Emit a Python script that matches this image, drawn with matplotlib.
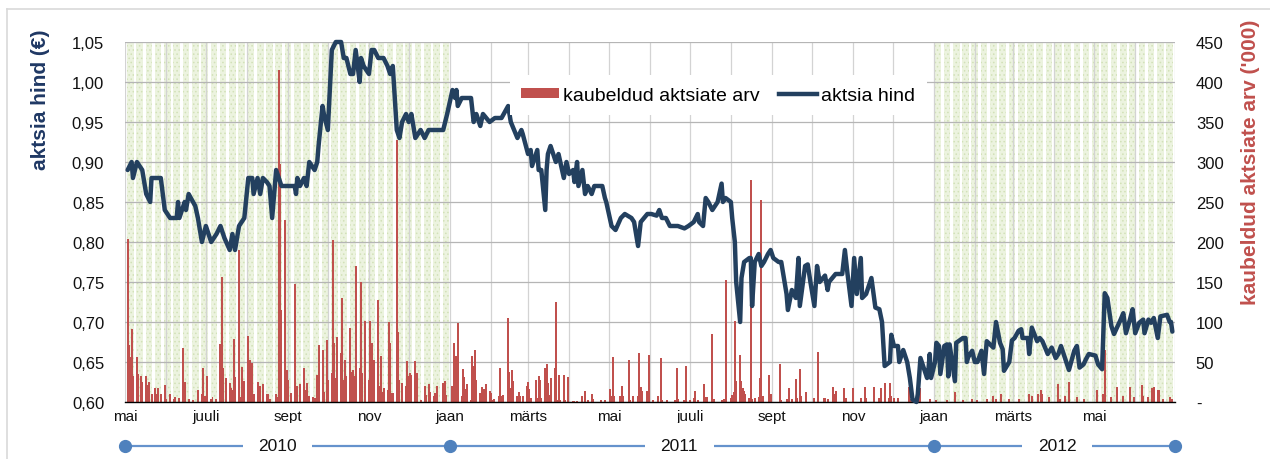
import matplotlib
matplotlib.use("Agg")
import matplotlib.pyplot as plt
import matplotlib.dates as mdates
from matplotlib.lines import Line2D
from matplotlib.patches import Patch
from matplotlib.ticker import FuncFormatter, FixedLocator, MultipleLocator
import pandas as pd

plt.rcParams['font.family'] = ['Liberation Sans', 'DejaVu Sans']
plt.rcParams['hatch.linewidth'] = 0.6

# aktsia hind (EUR)
price_dates = [
    '2010-05-03', '2010-05-06', '2010-05-07', '2010-05-10', '2010-05-12', '2010-05-14', '2010-05-17', '2010-05-20',
    '2010-05-21', '2010-05-28', '2010-05-31', '2010-06-04', '2010-06-09', '2010-06-10', '2010-06-11', '2010-06-15',
    '2010-06-16', '2010-06-18', '2010-06-23', '2010-06-25', '2010-06-28', '2010-07-01', '2010-07-05', '2010-07-09',
    '2010-07-12', '2010-07-15', '2010-07-19', '2010-07-21', '2010-07-23', '2010-07-26', '2010-07-30', '2010-08-02',
    '2010-08-05', '2010-08-06', '2010-08-09', '2010-08-11', '2010-08-13', '2010-08-16', '2010-08-18', '2010-08-20',
    '2010-08-23', '2010-08-25', '2010-08-27', '2010-09-06', '2010-09-07', '2010-09-08', '2010-09-10', '2010-09-13',
    '2010-09-15', '2010-09-17', '2010-09-21', '2010-09-23', '2010-09-24', '2010-09-27', '2010-09-28', '2010-10-01',
    '2010-10-04', '2010-10-07', '2010-10-11', '2010-10-13', '2010-10-15', '2010-10-18', '2010-10-20', '2010-10-22',
    '2010-10-25', '2010-10-26', '2010-10-28', '2010-11-01', '2010-11-03', '2010-11-05', '2010-11-08', '2010-11-12',
    '2010-11-15', '2010-11-17', '2010-11-19', '2010-11-22', '2010-11-24', '2010-11-26', '2010-11-29', '2010-12-01',
    '2010-12-03', '2010-12-06', '2010-12-10', '2010-12-13', '2010-12-16', '2010-12-27', '2010-12-30',
    '2011-01-03', '2011-01-05', '2011-01-06', '2011-01-07', '2011-01-10', '2011-01-17', '2011-01-19', '2011-01-21',
    '2011-01-24', '2011-01-26', '2011-01-31', '2011-02-04', '2011-02-09', '2011-02-14', '2011-02-16', '2011-02-21',
    '2011-02-24', '2011-02-25', '2011-03-01', '2011-03-03', '2011-03-04', '2011-03-08', '2011-03-09', '2011-03-11',
    '2011-03-14', '2011-03-15', '2011-03-16', '2011-03-18', '2011-03-22', '2011-03-24', '2011-03-28', '2011-03-30',
    '2011-04-01', '2011-04-04', '2011-04-05', '2011-04-07', '2011-04-08', '2011-04-11', '2011-04-13', '2011-04-15',
    '2011-04-18', '2011-04-20', '2011-04-26', '2011-04-28', '2011-04-29', '2011-05-03', '2011-05-06', '2011-05-10',
    '2011-05-13', '2011-05-18', '2011-05-20', '2011-05-23', '2011-05-25', '2011-05-30', '2011-06-02', '2011-06-06',
    '2011-06-08', '2011-06-10', '2011-06-13', '2011-06-16', '2011-06-22', '2011-06-27', '2011-06-30', '2011-07-04',
    '2011-07-07', '2011-07-08', '2011-07-11', '2011-07-13', '2011-07-15', '2011-07-18', '2011-07-22', '2011-07-25',
    '2011-07-26', '2011-07-28', '2011-08-01', '2011-08-02', '2011-08-04', '2011-08-05', '2011-08-08', '2011-08-09',
    '2011-08-11', '2011-08-15', '2011-08-16', '2011-08-17', '2011-08-19', '2011-08-22', '2011-08-24', '2011-08-26',
    '2011-08-29', '2011-08-31', '2011-09-02', '2011-09-06', '2011-09-08', '2011-09-09', '2011-09-12', '2011-09-13',
    '2011-09-16', '2011-09-19', '2011-09-21', '2011-09-22', '2011-09-26', '2011-09-28', '2011-09-30', '2011-10-03',
    '2011-10-05', '2011-10-07', '2011-10-11', '2011-10-13', '2011-10-14', '2011-10-19', '2011-10-24', '2011-10-26',
    '2011-10-28', '2011-10-31', '2011-11-02', '2011-11-04', '2011-11-07', '2011-11-08', '2011-11-11', '2011-11-15',
    '2011-11-17', '2011-11-18', '2011-11-21', '2011-11-23', '2011-11-25', '2011-11-29', '2011-11-30', '2011-12-02',
    '2011-12-05', '2011-12-06', '2011-12-09', '2011-12-12', '2011-12-14', '2011-12-16', '2011-12-19', '2011-12-20',
    '2011-12-22', '2011-12-27', '2011-12-28', '2011-12-29', '2011-12-30',
    '2012-01-02', '2012-01-03', '2012-01-05', '2012-01-06', '2012-01-09', '2012-01-11', '2012-01-12', '2012-01-13',
    '2012-01-17', '2012-01-18', '2012-01-23', '2012-01-25', '2012-01-26', '2012-01-27', '2012-01-30', '2012-02-01',
    '2012-02-03', '2012-02-06', '2012-02-08', '2012-02-10', '2012-02-15', '2012-02-17', '2012-02-20', '2012-02-22',
    '2012-02-23', '2012-02-27', '2012-02-29', '2012-03-02', '2012-03-05', '2012-03-07', '2012-03-08', '2012-03-12',
    '2012-03-13', '2012-03-15', '2012-03-19', '2012-03-21', '2012-03-23', '2012-03-27', '2012-03-30', '2012-04-02',
    '2012-04-04', '2012-04-06', '2012-04-09', '2012-04-12', '2012-04-16', '2012-04-18', '2012-04-20', '2012-04-23',
    '2012-04-25', '2012-04-27', '2012-05-02', '2012-05-04', '2012-05-07', '2012-05-09', '2012-05-11', '2012-05-14',
    '2012-05-16', '2012-05-21', '2012-05-23', '2012-05-25', '2012-05-28', '2012-05-30', '2012-06-01', '2012-06-04',
    '2012-06-07', '2012-06-08', '2012-06-11', '2012-06-13', '2012-06-15', '2012-06-18', '2012-06-20', '2012-06-25',
    '2012-06-27', '2012-06-28', '2012-06-29',
]
price_values = [
    0.89, 0.90, 0.88, 0.90, 0.895, 0.89, 0.86, 0.85,
    0.88, 0.88, 0.84, 0.83, 0.83, 0.85, 0.83, 0.85,
    0.84, 0.86, 0.845, 0.83, 0.80, 0.82, 0.80, 0.81,
    0.82, 0.805, 0.79, 0.81, 0.79, 0.82, 0.83, 0.88,
    0.88, 0.86, 0.88, 0.86, 0.88, 0.875, 0.87, 0.83,
    0.89, 0.88, 0.87, 0.87, 0.86, 0.88, 0.87, 0.88,
    0.87, 0.90, 0.89, 0.90, 0.92, 0.97, 0.96, 0.94,
    1.04, 1.05, 1.05, 1.03, 1.03, 1.01, 1.01, 1.04,
    1.00, 1.03, 1.02, 1.01, 1.04, 1.04, 1.03, 1.03,
    1.02, 1.01, 1.02, 0.94, 0.93, 0.95, 0.96, 0.95,
    0.96, 0.93, 0.94, 0.93, 0.94, 0.94, 0.96,
    0.99, 0.98, 0.99, 0.97, 0.98, 0.98, 0.95, 0.96,
    0.945, 0.96, 0.95, 0.955, 0.955, 0.97, 0.95, 0.93,
    0.94, 0.935, 0.91, 0.915, 0.895, 0.915, 0.89, 0.89,
    0.84, 0.89, 0.91, 0.92, 0.90, 0.91, 0.88, 0.90,
    0.885, 0.89, 0.875, 0.90, 0.87, 0.89, 0.86, 0.87,
    0.86, 0.87, 0.87, 0.855, 0.85, 0.82, 0.815, 0.83,
    0.835, 0.83, 0.825, 0.795, 0.825, 0.835, 0.835, 0.833,
    0.84, 0.83, 0.83, 0.82, 0.82, 0.817, 0.82, 0.825,
    0.835, 0.825, 0.82, 0.855, 0.85, 0.84, 0.85, 0.873,
    0.85, 0.855, 0.85, 0.83, 0.80, 0.75, 0.70, 0.755,
    0.775, 0.78, 0.78, 0.72, 0.775, 0.785, 0.77, 0.775,
    0.785, 0.79, 0.78, 0.775, 0.775, 0.765, 0.735, 0.715,
    0.74, 0.73, 0.78, 0.72, 0.77, 0.772, 0.75, 0.72,
    0.77, 0.75, 0.758, 0.74, 0.75, 0.76, 0.76, 0.79,
    0.76, 0.72, 0.78, 0.735, 0.78, 0.73, 0.735, 0.755,
    0.73, 0.718, 0.716, 0.70, 0.645, 0.65, 0.684, 0.67,
    0.67, 0.65, 0.665, 0.65, 0.63, 0.603, 0.60, 0.61,
    0.655, 0.63, 0.64, 0.66, 0.63,
    0.65, 0.674, 0.67, 0.635, 0.67, 0.672, 0.632, 0.672,
    0.626, 0.674, 0.68, 0.68, 0.65, 0.656, 0.664, 0.65,
    0.65, 0.664, 0.635, 0.676, 0.668, 0.70, 0.674, 0.666,
    0.639, 0.65, 0.677, 0.68, 0.689, 0.691, 0.68, 0.68,
    0.66, 0.693, 0.676, 0.68, 0.676, 0.66, 0.668, 0.655,
    0.66, 0.67, 0.655, 0.64, 0.664, 0.67, 0.643, 0.647,
    0.654, 0.66, 0.658, 0.647, 0.641, 0.736, 0.73, 0.695,
    0.685, 0.703, 0.711, 0.686, 0.703, 0.716, 0.686, 0.699,
    0.703, 0.686, 0.703, 0.699, 0.705, 0.68, 0.707, 0.709,
    0.70, 0.70, 0.688,
]

# kaubeldud aktsiate arv ('000)
vol_dates = [
    '2010-05-03', '2010-05-04', '2010-05-05', '2010-05-06', '2010-05-07', '2010-05-10', '2010-05-11', '2010-05-13',
    '2010-05-14', '2010-05-17', '2010-05-18', '2010-05-19', '2010-05-21', '2010-05-24', '2010-05-25', '2010-05-26',
    '2010-05-28', '2010-05-31', '2010-06-01', '2010-06-04', '2010-06-07', '2010-06-08', '2010-06-11', '2010-06-14',
    '2010-06-15', '2010-06-18', '2010-06-21', '2010-06-25', '2010-06-28', '2010-06-29', '2010-06-30', '2010-07-02',
    '2010-07-05', '2010-07-06', '2010-07-09', '2010-07-12', '2010-07-13', '2010-07-14', '2010-07-16', '2010-07-19',
    '2010-07-20', '2010-07-21', '2010-07-22', '2010-07-23', '2010-07-26', '2010-07-27', '2010-07-28', '2010-07-29',
    '2010-07-30', '2010-08-02', '2010-08-03', '2010-08-04', '2010-08-05', '2010-08-06', '2010-08-09', '2010-08-10',
    '2010-08-11', '2010-08-13', '2010-08-16', '2010-08-17', '2010-08-18', '2010-08-23', '2010-08-24', '2010-08-25',
    '2010-08-26', '2010-08-27', '2010-08-30', '2010-08-31', '2010-09-01', '2010-09-03', '2010-09-06', '2010-09-07',
    '2010-09-08', '2010-09-10', '2010-09-13', '2010-09-14', '2010-09-15', '2010-09-17', '2010-09-20', '2010-09-21',
    '2010-09-23', '2010-09-24', '2010-09-27', '2010-09-28', '2010-09-30', '2010-10-01', '2010-10-04', '2010-10-05',
    '2010-10-06', '2010-10-07', '2010-10-08', '2010-10-11', '2010-10-12', '2010-10-13', '2010-10-14', '2010-10-15',
    '2010-10-18', '2010-10-19', '2010-10-20', '2010-10-21', '2010-10-22', '2010-10-25', '2010-10-26', '2010-10-27',
    '2010-10-29', '2010-11-01', '2010-11-02', '2010-11-03', '2010-11-04', '2010-11-05', '2010-11-08', '2010-11-09',
    '2010-11-10', '2010-11-11', '2010-11-12', '2010-11-15', '2010-11-16', '2010-11-17', '2010-11-18', '2010-11-19',
    '2010-11-22', '2010-11-23', '2010-11-24', '2010-11-26', '2010-11-29', '2010-11-30', '2010-12-01', '2010-12-02',
    '2010-12-03', '2010-12-06', '2010-12-07', '2010-12-10', '2010-12-13', '2010-12-14', '2010-12-16', '2010-12-17',
    '2010-12-20', '2010-12-21', '2010-12-22', '2010-12-27', '2010-12-28', '2010-12-29',
    '2011-01-03', '2011-01-04', '2011-01-05', '2011-01-06', '2011-01-07', '2011-01-10', '2011-01-11', '2011-01-12',
    '2011-01-13', '2011-01-14', '2011-01-17', '2011-01-18', '2011-01-19', '2011-01-20', '2011-01-21', '2011-01-24',
    '2011-01-25', '2011-01-26', '2011-01-27', '2011-01-28', '2011-01-31', '2011-02-01', '2011-02-02', '2011-02-03',
    '2011-02-07', '2011-02-08', '2011-02-09', '2011-02-10', '2011-02-14', '2011-02-15', '2011-02-16', '2011-02-17',
    '2011-02-18', '2011-02-21', '2011-02-22', '2011-02-23', '2011-02-25', '2011-02-28', '2011-03-01', '2011-03-02',
    '2011-03-03', '2011-03-07', '2011-03-08', '2011-03-09', '2011-03-10', '2011-03-11', '2011-03-14', '2011-03-15',
    '2011-03-16', '2011-03-17', '2011-03-18', '2011-03-21', '2011-03-22', '2011-03-23', '2011-03-24', '2011-03-25',
    '2011-03-28', '2011-03-29', '2011-03-31', '2011-04-04', '2011-04-05', '2011-04-07', '2011-04-11', '2011-04-13',
    '2011-04-15', '2011-04-18', '2011-04-19', '2011-04-25', '2011-04-28', '2011-05-02', '2011-05-03', '2011-05-04',
    '2011-05-05', '2011-05-09', '2011-05-11', '2011-05-12', '2011-05-16', '2011-05-17', '2011-05-19', '2011-05-23',
    '2011-05-24', '2011-05-25', '2011-05-26', '2011-05-30', '2011-05-31', '2011-06-03', '2011-06-07', '2011-06-09',
    '2011-06-10', '2011-06-14', '2011-06-20', '2011-06-21', '2011-06-22', '2011-06-27', '2011-06-28', '2011-07-01',
    '2011-07-04', '2011-07-05', '2011-07-07', '2011-07-12', '2011-07-13', '2011-07-14', '2011-07-18', '2011-07-19',
    '2011-07-25', '2011-07-26', '2011-07-27', '2011-07-28', '2011-08-01', '2011-08-02', '2011-08-03', '2011-08-04',
    '2011-08-05', '2011-08-08', '2011-08-09', '2011-08-10', '2011-08-11', '2011-08-12', '2011-08-15', '2011-08-16',
    '2011-08-17', '2011-08-19', '2011-08-22', '2011-08-23', '2011-08-24', '2011-08-25', '2011-08-30', '2011-08-31',
    '2011-09-07', '2011-09-08', '2011-09-12', '2011-09-14', '2011-09-16', '2011-09-19', '2011-09-20', '2011-09-22',
    '2011-09-23', '2011-09-27', '2011-10-03', '2011-10-06', '2011-10-10', '2011-10-11', '2011-10-13', '2011-10-17',
    '2011-10-18', '2011-10-19', '2011-10-25', '2011-10-27', '2011-11-01', '2011-11-07', '2011-11-10', '2011-11-11',
    '2011-11-17', '2011-11-21', '2011-11-22', '2011-11-25', '2011-11-28', '2011-11-29', '2011-11-30', '2011-12-02',
    '2011-12-05', '2011-12-13', '2011-12-15', '2011-12-16', '2011-12-20', '2011-12-22', '2011-12-29',
    '2012-01-03', '2012-01-11', '2012-01-17', '2012-01-23', '2012-01-30', '2012-02-03', '2012-02-10', '2012-02-15',
    '2012-02-17', '2012-02-21', '2012-02-27', '2012-03-05', '2012-03-13', '2012-03-15', '2012-03-20', '2012-03-22',
    '2012-03-23', '2012-03-28', '2012-04-04', '2012-04-05', '2012-04-09', '2012-04-12', '2012-04-18', '2012-04-23',
    '2012-05-03', '2012-05-08', '2012-05-09', '2012-05-14', '2012-05-18', '2012-05-23', '2012-05-28', '2012-05-31',
    '2012-06-06', '2012-06-07', '2012-06-11', '2012-06-14', '2012-06-15', '2012-06-18', '2012-06-19', '2012-06-22',
    '2012-06-27', '2012-06-29',
]
vol_values = [
    204, 71, 56, 91, 33, 56, 35, 32,
    25, 33, 21, 25, 10, 17, 10, 17,
    10, 21, 4, 10, 4, 6, 5, 68,
    25, 4, 3, 15, 10, 42, 8, 32,
    4, 6, 4, 72, 156, 42, 30, 24,
    17, 15, 79, 31, 190, 6, 44, 6,
    26, 83, 52, 49, 49, 10, 25, 20,
    20, 22, 10, 10, 4, 10, 6, 415,
    297, 115, 227, 40, 28, 11, 147, 5,
    20, 22, 42, 15, 24, 8, 6, 5,
    34, 71, 65, 13, 78, 28, 36, 202,
    74, 30, 81, 61, 130, 28, 53, 32,
    92, 38, 40, 32, 170, 42, 150, 36,
    101, 28, 101, 74, 32, 53, 127, 20,
    57, 13, 17, 15, 100, 74, 11, 11,
    328, 87, 28, 24, 20, 51, 32, 36,
    34, 51, 36, 3, 20, 9, 22, 13,
    7, 11, 20, 24, 26, 9,
    20, 74, 31, 58, 99, 8, 41, 31,
    16, 22, 3, 57, 45, 65, 28, 11,
    19, 11, 16, 23, 14, 11, 3, 4,
    7, 42, 7, 9, 105, 37, 18, 40,
    26, 8, 13, 7, 7, 20, 25, 16,
    5, 28, 5, 33, 28, 5, 42, 48,
    24, 9, 30, 42, 125, 3, 34, 3,
    34, 3, 31, 1, 1, 1, 8, 14,
    3, 10, 4, 2, 2, 16, 8, 56,
    8, 7, 20, 8, 53, 3, 7, 7,
    61, 19, 14, 14, 59, 3, 7, 55,
    3, 3, 3, 42, 4, 3, 45, 3,
    5, 14, 3, 23, 6, 6, 85, 4,
    3, 3, 4, 152, 5, 9, 13, 101,
    26, 59, 26, 18, 14, 10, 5, 278,
    4, 5, 6, 30, 252, 8, 34, 10,
    48, 3, 4, 17, 4, 29, 5, 41,
    8, 12, 5, 62, 5, 5, 4, 19,
    10, 14, 17, 5, 17, 5, 19, 5,
    19, 5, 17, 24, 5, 24, 8, 5,
    5, 19, 4, 6, 4, 17, 4,
    2, 2, 12, 2, 4, 2, 4, 7,
    4, 10, 4, 4, 10, 7, 10, 15,
    10, 6, 23, 4, 7, 25, 6, 4,
    15, 10, 65, 6, 19, 8, 19, 6,
    21, 8, 6, 17, 19, 15, 15, 4,
    6, 4,
]

# x axis month labels (every second month)
month_ticks = ['2010-05-01', '2010-07-01', '2010-09-01', '2010-11-01', '2011-01-01', '2011-03-01', '2011-05-01',
               '2011-07-01', '2011-09-01', '2011-11-01', '2012-01-01', '2012-03-01', '2012-05-01']
month_labels = ['mai', 'juuli', 'sept', 'nov', 'jaan', 'märts', 'mai', 'juuli', 'sept', 'nov', 'jaan', 'märts', 'mai']

# shaded periods and year timeline
shade_periods = [('2010-05-01', '2010-12-31'), ('2012-01-01', '2012-06-30')]
years = ['2010', '2011', '2012']
year_bounds = ['2010-05-01', '2011-01-01', '2012-01-01', '2012-07-01']

C_LINE = '#23405f'
C_BAR = '#c0504d'
C_TL = '#4f81bd'

W, H = 1270, 460
fig = plt.figure(figsize=(W / 100, H / 100), dpi=100)
fig.patch.set_facecolor('white')
ax_l, ax_r, ax_t, ax_b = 125, 1175, 43, 403
rect = [ax_l / W, 1 - ax_b / H, (ax_r - ax_l) / W, (ax_b - ax_t) / H]

ax_v = fig.add_axes(rect)          # volume, right scale (drawn below)
ax_p = ax_v.twinx()                # price, left scale (drawn on top)

x0, x1 = pd.Timestamp('2010-05-01'), pd.Timestamp('2012-07-01')

# shaded periods: one pattern column per trading day
for start, end in shade_periods:
    days = pd.bdate_range(start, end)
    ax_v.bar(days, [450] * len(days), width=1.0, color='#ecf3df', hatch='....',
             edgecolor='#d2e1b8', linewidth=0, zorder=0.2)

# volumes
ax_v.bar(pd.to_datetime(vol_dates), vol_values, width=1.5, color=C_BAR, linewidth=0, zorder=2)
ax_v.set_ylim(0, 450)
ax_v.set_xlim(x0, x1)
ax_v.yaxis.tick_right()
ax_v.yaxis.set_major_locator(MultipleLocator(50))
ax_v.yaxis.set_major_formatter(FuncFormatter(lambda v, p: '-' if v == 0 else f'{int(v)}'))

ax_v.xaxis.set_major_locator(FixedLocator(mdates.date2num(pd.to_datetime(month_ticks))))
ax_v.xaxis.set_major_formatter(FuncFormatter(lambda v, p: month_labels[p] if p is not None and p < len(month_labels) else ''))
ax_v.xaxis.set_minor_locator(mdates.MonthLocator())
ax_v.set_axisbelow(True)
ax_v.grid(which='both', axis='x', color='#d3d3d3', linewidth=0.9)
ax_v.grid(which='major', axis='y', color='#b5b5b5', linewidth=0.9)
ax_v.tick_params(axis='x', which='both', length=0, labelsize=11, pad=5, colors='#111111')
ax_v.tick_params(axis='y', length=0, labelsize=12, pad=15, colors='#111111')
for s in ['top', 'left', 'right']:
    ax_v.spines[s].set_visible(False)
ax_v.spines['bottom'].set_color('black')
ax_v.spines['bottom'].set_linewidth(1.0)

# price
ax_p.plot(pd.to_datetime(price_dates), price_values, color=C_LINE, linewidth=3.2,
          solid_joinstyle='round', solid_capstyle='round', clip_on=False, zorder=3)
ax_p.set_ylim(0.60, 1.05)
ax_p.set_xlim(x0, x1)
ax_p.yaxis.tick_left()
ax_p.yaxis.set_major_locator(MultipleLocator(0.05))
ax_p.yaxis.set_major_formatter(FuncFormatter(lambda v, p: f'{v:.2f}'.replace('.', ',')))
ax_p.tick_params(axis='y', length=0, labelsize=12, pad=15, colors='#111111')
for s in ax_p.spines.values():
    s.set_visible(False)

handles = [Patch(facecolor=C_BAR, edgecolor='none'), Line2D([], [], color=C_LINE, linewidth=3.2)]
leg = ax_p.legend(handles, ['kaubeldud aktsiate arv', 'aktsia hind'], loc='upper center',
                  bbox_to_anchor=(0.565, 0.935), ncol=2, fontsize=14, frameon=True,
                  facecolor='white', edgecolor='none', framealpha=1, fancybox=False,
                  handlelength=1.95, handleheight=0.47, handletextpad=0.2, columnspacing=1.0,
                  borderpad=0.6)
leg.set_zorder(10)

# axis titles
fig.text(40 / W, 1 - 100 / H, 'aktsia hind (€)', rotation=90, ha='center', va='center',
         fontsize=15, fontweight='bold', color='#1f3864')
fig.text(1250 / W, 1 - 162 / H, "kaubeldud aktsiate arv ('000)", rotation=90, ha='center', va='center',
         fontsize=15, fontweight='bold', color=C_BAR)

# year timeline under the axis
tl = fig.add_axes([ax_l / W, 0, (ax_r - ax_l) / W, 26 / H])
yb = pd.to_datetime(year_bounds)
tl.plot([yb[0], yb[-1]], [13, 13], color='#6592cc', linewidth=1.6, clip_on=False, zorder=1)
tl.plot(yb, [13] * len(yb), 'o', markersize=8.5, color=C_TL, clip_on=False, zorder=3)
year_label_at = ['2010-08-24', '2011-06-23', '2012-04-03']
for lab, pos in zip(years, year_label_at):
    tl.text(pd.Timestamp(pos), 13, lab, ha='center', va='center', fontsize=12.5, color='#111111', zorder=2,
            bbox=dict(facecolor='white', edgecolor='none', boxstyle='square,pad=0.9'))
tl.set_xlim(x0, x1)
tl.set_ylim(0, 26)
tl.axis('off')

# outer frame (top and left edge visible)
fig.add_artist(Line2D([7 / W, 1], [1 - 10 / H, 1 - 10 / H], color='#d9d9d9', linewidth=1.2, transform=fig.transFigure))
fig.add_artist(Line2D([7 / W, 7 / W], [0, 1 - 10 / H], color='#d9d9d9', linewidth=1.2, transform=fig.transFigure))

fig.savefig('out.png', dpi=100, facecolor='white')
